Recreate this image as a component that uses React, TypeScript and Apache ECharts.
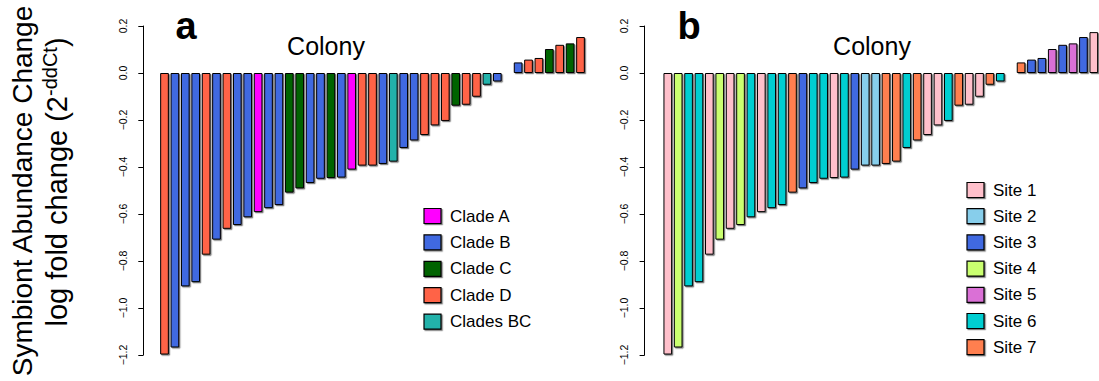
import React, { useEffect, useRef } from "react";
import * as echarts from "echarts";

// ---- data ----
const colonyValues = [
  -1.198, -1.168, -0.908, -0.89, -0.773, -0.709, -0.663, -0.647, -0.614, -0.592,
  -0.575, -0.562, -0.509, -0.491, -0.468, -0.45, -0.447, -0.445, -0.411, -0.394,
  -0.394, -0.387, -0.377, -0.319, -0.287, -0.264, -0.223, -0.204, -0.139, -0.135,
  -0.101, -0.05, -0.036, -0.004, 0.045, 0.057, 0.064, 0.102, 0.12, 0.126, 0.153,
];
const extraSiteValues = [0.174];
const siteValues = [...colonyValues, ...extraSiteValues];

const cladeNames = ["Clade A", "Clade B", "Clade C", "Clade D", "Clades BC"];
const cladeColors = ["#FF00FF", "#4169E1", "#006400", "#FF6347", "#20B2AA"];
// clade index of each colony (panel a)
const cladeOfBar = [
  3, 1, 1, 1, 3, 1, 3, 1, 1, 0, 1, 1, 2, 2, 1, 1, 2, 1, 0, 3,
  3, 1, 4, 1, 1, 3, 3, 3, 2, 3, 3, 4, 1, 3, 1, 3, 3, 2, 3, 2, 3,
];

const siteNames = ["Site 1", "Site 2", "Site 3", "Site 4", "Site 5", "Site 6", "Site 7"];
const siteColors = ["#FFC0CB", "#87CEEB", "#4169E1", "#CAFF70", "#DA70D6", "#00CED1", "#FF7F50"];
// site number of each colony (panel b)
const siteOfBar = [
  1, 4, 6, 6, 1, 4, 1, 4, 6, 1, 6, 6, 7, 3, 6, 6, 1, 6, 3, 2,
  2, 7, 7, 6, 7, 1, 1, 6, 7, 1, 1, 7, 6, 6, 7, 3, 3, 5, 3, 5, 3, 1,
];

const yMin = -1.2;
const yMax = 0.2;
const yStep = 0.2;

const panelLetters = ["a", "b"];
const panelTitle = "Colony";
const yTitle1 = "Symbiont Abundance Change";

const FONT = "'Liberation Sans', Arial, Helvetica, sans-serif";

export default function App() {
  const ref = useRef<HTMLDivElement>(null);

  useEffect(() => {
    document.body.style.margin = "0";
    if (!ref.current) return;
    const chart = echarts.init(ref.current, null, { renderer: "svg" });

    const shadow = {
      shadowColor: "rgba(0,0,0,0.5)",
      shadowOffsetX: 1.2,
      shadowOffsetY: 1.2,
      shadowBlur: 0,
    };

    const bandW = 10.4;
    const gridA = { left: 159.3, top: 26, width: bandW * colonyValues.length, height: 329 };
    const gridB = { left: 662.6, top: 26, width: bandW * siteValues.length, height: 329 };

    const yAxisBase = (gridIndex: number, offset: number) => ({
      type: "value",
      gridIndex,
      min: yMin,
      max: yMax,
      interval: yStep,
      offset,
      axisLine: { show: true, lineStyle: { color: "#000", width: 1 } },
      axisTick: { show: true, length: 5, lineStyle: { color: "#000", width: 1 } },
      splitLine: { show: false },
      axisLabel: {
        rotate: 90,
        fontSize: 10.5,
        fontFamily: FONT,
        color: "#000",
        margin: 15,
        formatter: (v: number) => {
          const s = Math.abs(v).toFixed(1);
          return v < -1e-9 ? "\u2212" + s : s;
        },
      },
    });

    const legendItems = (names: string[], colors: string[], bx: number, y0: number, step: number) => {
      const out: any[] = [];
      names.forEach((n, i) => {
        const cy = y0 + i * step;
        out.push({
          type: "rect",
          shape: { x: bx, y: cy - 7.5, width: 17, height: 15 },
          style: { fill: colors[i], stroke: "#000", lineWidth: 1.2, ...shadow },
        });
        out.push({
          type: "text",
          x: bx + 26,
          y: cy,
          style: {
            text: n,
            fontSize: 17,
            fontFamily: FONT,
            fill: "#000",
            align: "left",
            verticalAlign: "middle",
          },
        });
      });
      return out;
    };

    const option: any = {
      animation: false,
      grid: [gridA, gridB],
      xAxis: [
        { type: "category", gridIndex: 0, data: colonyValues.map((_, i) => String(i + 1)), show: false },
        { type: "category", gridIndex: 1, data: siteValues.map((_, i) => String(i + 1)), show: false },
      ],
      yAxis: [yAxisBase(0, 16), yAxisBase(1, 18)],
      series: [
        {
          type: "bar",
          xAxisIndex: 0,
          yAxisIndex: 0,
          barCategoryGap: "16.7%",
          data: colonyValues.map((v, i) => ({
            value: v,
            itemStyle: { color: cladeColors[cladeOfBar[i]] },
          })),
          itemStyle: { borderColor: "#000", borderWidth: 1, ...shadow },
        },
        {
          type: "bar",
          xAxisIndex: 1,
          yAxisIndex: 1,
          barCategoryGap: "16.7%",
          data: siteValues.map((v, i) => ({
            value: v,
            itemStyle: { color: siteColors[siteOfBar[i] - 1] },
          })),
          itemStyle: { borderColor: "#000", borderWidth: 1, ...shadow },
        },
      ],
      graphic: [
        {
          type: "text",
          x: 22,
          y: 191,
          rotation: Math.PI / 2,
          style: {
            text: yTitle1,
            fontSize: 28,
            fontFamily: FONT,
            fill: "#000",
            align: "center",
            verticalAlign: "middle",
          },
        },
        {
          type: "text",
          x: 57,
          y: 182,
          rotation: Math.PI / 2,
          style: {
            text: "log fold change (2{sup|-ddCt})",
            fontSize: 29,
            fontFamily: FONT,
            fill: "#000",
            align: "center",
            verticalAlign: "middle",
            lineHeight: 34,
            rich: {
              sup: {
                fontSize: 20,
                fontFamily: FONT,
                fill: "#000",
                verticalAlign: "top",
                lineHeight: 34,
                padding: [0, 0, 13, 0],
              },
            },
          },
        },
        {
          type: "text",
          x: 186,
          y: 26,
          style: { text: panelLetters[0], fontSize: 38, fontWeight: "bold", fontFamily: FONT, fill: "#000", align: "center", verticalAlign: "middle" },
        },
        {
          type: "text",
          x: 689,
          y: 26,
          style: { text: panelLetters[1], fontSize: 38, fontWeight: "bold", fontFamily: FONT, fill: "#000", align: "center", verticalAlign: "middle" },
        },
        {
          type: "text",
          x: 326,
          y: 46,
          style: { text: panelTitle, fontSize: 25, fontFamily: FONT, fill: "#000", align: "center", verticalAlign: "middle" },
        },
        {
          type: "text",
          x: 872,
          y: 46,
          style: { text: panelTitle, fontSize: 25, fontFamily: FONT, fill: "#000", align: "center", verticalAlign: "middle" },
        },
        ...legendItems(cladeNames, cladeColors, 424, 216, 26.4),
        ...legendItems(siteNames, siteColors, 967, 190, 26.2),
      ],
    };

    chart.setOption(option);
    return () => chart.dispose();
  }, []);

  return <div ref={ref} style={{ width: 1099, height: 381 }} />;
}
